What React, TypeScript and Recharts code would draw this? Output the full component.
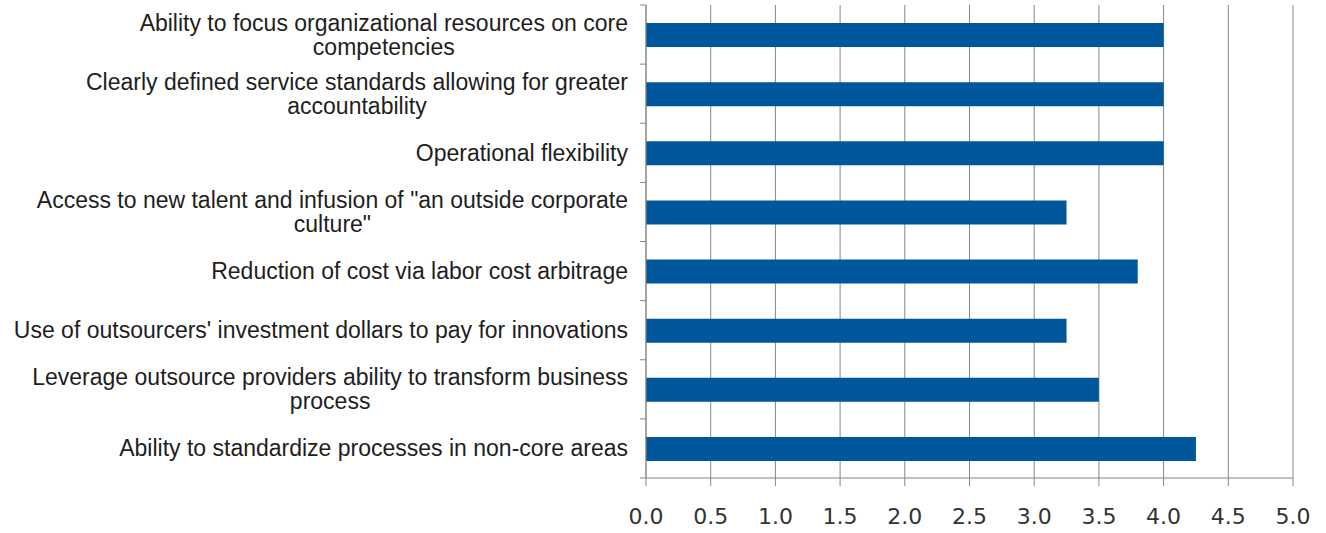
import { BarChart, Bar, XAxis, YAxis, CartesianGrid } from 'recharts'

// Wrapped labels keep Excel's line breaks
const categories = [
  'Ability to focus organizational resources on core\ncompetencies',
  'Clearly defined service standards allowing for greater\naccountability',
  'Operational flexibility',
  'Access to new talent and infusion of "an outside corporate\nculture"',
  'Reduction of cost via labor cost arbitrage',
  "Use of outsourcers' investment dollars to pay for innovations",
  'Leverage outsource providers ability to transform business\nprocess',
  'Ability to standardize processes in non-core areas',
]
const scores = [4.0, 4.0, 4.0, 3.25, 3.8, 3.25, 3.5, 4.25]
const xTicks = [0, 0.5, 1, 1.5, 2, 2.5, 3, 3.5, 4, 4.5, 5]

const data = categories.map((name, i) => ({ name, score: scores[i] }))

const W = 1326
const H = 533
const M = { top: 5, right: 33, left: 0, bottom: 0 }
const Y_AXIS_W = 646
const X_AXIS_H = 55
const BAND = (H - M.top - M.bottom - X_AXIS_H) / categories.length
const LABEL_FONT = '23px "Liberation Sans", Arial, sans-serif'
const GRID = '#878787'

let ctx: CanvasRenderingContext2D | null = null
function measure(s: string) {
  if (!ctx) ctx = document.createElement('canvas').getContext('2d')
  if (!ctx) return s.length * 11
  ctx.font = LABEL_FONT
  return ctx.measureText(s).width
}

function CategoryTick(props: any) {
  const { x, y, payload, index } = props
  const lines = String(payload.value).split('\n')
  // recharts hands x = axis - tickSize - tickMargin
  const ax = x + 8
  const right = ax - 18
  const maxW = Math.max(...lines.map(measure))
  const lineH = 24
  const y0 = y - ((lines.length - 1) * lineH) / 2
  return (
    <g>
      <line x1={ax - 6} x2={ax} y1={y - BAND / 2} y2={y - BAND / 2} stroke={GRID} />
      {index === categories.length - 1 && (
        <line x1={ax - 6} x2={ax} y1={y + BAND / 2} y2={y + BAND / 2} stroke={GRID} />
      )}
      {lines.map((l, i) => (
        <text
          key={i}
          x={lines.length > 1 ? right - maxW / 2 : right}
          y={y0 + i * lineH}
          dy="0.35em"
          textAnchor={lines.length > 1 ? 'middle' : 'end'}
          style={{ font: LABEL_FONT }}
          fill="#1e1e1e"
        >
          {l}
        </text>
      ))}
    </g>
  )
}

export default function App() {
  return (
    <div style={{ position: 'absolute', left: 0, top: 0, width: W, height: H, background: '#fff' }}>
      <BarChart width={W} height={H} data={data} layout="vertical" margin={M} barSize={24}>
        <CartesianGrid horizontal={false} stroke={GRID} strokeDasharray="0" />
        <XAxis
          type="number"
          domain={[0, 5]}
          ticks={xTicks}
          interval={0}
          height={X_AXIS_H}
          tickFormatter={(v: number) => v.toFixed(1)}
          tickSize={8}
          tickMargin={22}
          axisLine={{ stroke: GRID }}
          tickLine={{ stroke: GRID }}
          tick={{ fill: '#333', fontSize: 22, fontFamily: '"DejaVu Sans", sans-serif' }}
        />
        <YAxis
          type="category"
          dataKey="name"
          width={Y_AXIS_W}
          interval={0}
          tickLine={false}
          axisLine={{ stroke: GRID }}
          tick={<CategoryTick />}
        />
        <Bar dataKey="score" fill="#00579b" isAnimationActive={false} />
      </BarChart>
    </div>
  )
}
